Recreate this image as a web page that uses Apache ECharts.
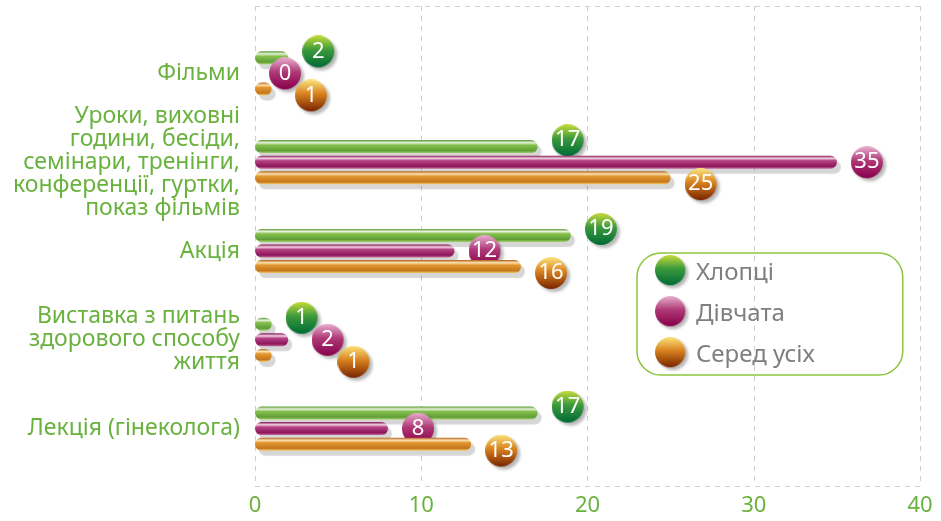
<!DOCTYPE html>
<html>
<head>
<meta charset="utf-8">
<script src="https://cdn.jsdelivr.net/npm/echarts/dist/echarts.min.js"></script>
<style>
  html, body { margin: 0; padding: 0; background: #fff; }
  #main { width: 941px; height: 521px; }
</style>
</head>
<body>
<div id="main"></div>
<script>
var categories = [
    'Фільми',
    'Уроки, виховні\nгодини, бесіди,\nсемінари, тренінги,\nконференції, гуртки,\nпоказ фільмів',
    'Акція',
    'Виставка з питань\nздорового способу\nжиття',
    'Лекція (гінеколога)'
];
var seriesNames = ['Хлопці', 'Дівчата', 'Серед усіх'];
var boys = [2, 17, 19, 1, 17];
var girls = [0, 35, 12, 2, 8];
var everyone = [1, 25, 16, 1, 13];
var xTicks = [0, 10, 20, 30, 40];

var GREEN_TEXT = '#6ab23e';
var FONT = '"Noto Sans", "DejaVu Sans", sans-serif';

// glossy ball used for value labels and legend icons
function makeBall(top, mid, bottom) {
    var c = document.createElement('canvas');
    c.width = 38; c.height = 38;
    var ctx = c.getContext('2d');
    ctx.save();
    ctx.shadowColor = 'rgba(0,0,0,0.28)';
    ctx.shadowBlur = 3;
    ctx.shadowOffsetX = 3;
    ctx.shadowOffsetY = 3;
    var g = ctx.createLinearGradient(0, 0, 0, 32);
    g.addColorStop(0, top);
    g.addColorStop(0.45, mid);
    g.addColorStop(1, bottom);
    ctx.fillStyle = g;
    ctx.beginPath();
    ctx.arc(16, 16, 16, 0, Math.PI * 2);
    ctx.fill();
    ctx.restore();
    return c;
}

var balls = [
    makeBall('#c8dc3a', '#3c9a3c', '#006a36'),
    makeBall('#e8b0cf', '#b03a78', '#87004c'),
    makeBall('#fbe47c', '#d8821f', '#782400')
];

function barGradient(edgeTop, light, mid, dark, edgeBottom) {
    return new echarts.graphic.LinearGradient(0, 0, 0, 1, [
        { offset: 0, color: edgeTop },
        { offset: 0.2, color: light },
        { offset: 0.38, color: mid },
        { offset: 0.82, color: dark },
        { offset: 1, color: edgeBottom }
    ]);
}

var barColors = [
    barGradient('#5a9832', '#e6f2da', '#86c04e', '#5f9e36', '#a6d26a'),
    barGradient('#861656', '#f2d0e2', '#b44484', '#8e145b', '#c66c9d'),
    barGradient('#b4621a', '#fbe2b2', '#e29830', '#c5761c', '#f5cf6a')
];

var values = [boys, girls, everyone];

// vertical placement of the balls around each bar
var barOffsets = [-15.6, 0, 15.6];
var ballDy = [-22, 0, 22];

function buildSeries(offsets) {
    return values.map(function (vals, s) {
        return {
            name: seriesNames[s],
            type: 'bar',
            xAxisIndex: 0,
            yAxisIndex: 0,
            barWidth: 13,
            barGap: '20%',
            z: 2 + s,
            itemStyle: {
                color: barColors[s],
                borderRadius: 6.5,
                shadowColor: 'rgba(0,0,0,0.16)',
                shadowBlur: 1,
                shadowOffsetX: 4,
                shadowOffsetY: 5
            },
            label: {
                show: true,
                position: 'right',
                distance: 14,
                formatter: '{n|{c}}',
                backgroundColor: { image: balls[s] },
                padding: [0, 6, 6, 0],
                rich: {
                    n: {
                        width: 32,
                        height: 32,
                        lineHeight: 32,
                        align: 'center',
                        color: '#fff',
                        fontSize: 22,
                        fontFamily: FONT
                    }
                }
            },
            data: vals.map(function (v, i) {
                return {
                    value: v,
                    label: { offset: offsets ? offsets[s][i] : [0, ballDy[s] - barOffsets[s] + 3] }
                };
            })
        };
    });
}

var chart = echarts.init(document.getElementById('main'));

var option = {
    animation: false,
    legend: {
        orient: 'vertical',
        left: 637,
        top: 253,
        padding: [2, 88, 2, 18],
        itemGap: 5,
        itemWidth: 36,
        itemHeight: 36,
        borderColor: '#8cc63f',
        borderWidth: 1.5,
        borderRadius: 24,
        textStyle: { color: '#7f7f7f', fontSize: 24, fontFamily: FONT },
        data: seriesNames.map(function (n, s) {
            return { name: n, icon: 'image://' + balls[s].toDataURL() };
        })
    },
    grid: [
        { left: 255, right: 21, top: 29, bottom: 48 },
        { left: 255, right: 21, top: 6, bottom: 35 }
    ],
    xAxis: [
        { gridIndex: 0, type: 'value', min: 0, max: 40, show: false },
        {
            gridIndex: 1, type: 'value', min: xTicks[0], max: xTicks[xTicks.length - 1], interval: 10,
            axisLine: { show: false },
            axisTick: { show: false },
            splitLine: { show: true, lineStyle: { color: '#cfcfcf', type: [5, 5], width: 1 } },
            axisLabel: { color: GREEN_TEXT, fontSize: 22, fontFamily: FONT, margin: 9 }
        }
    ],
    yAxis: [
        {
            gridIndex: 0, type: 'category', inverse: true, data: categories,
            axisLine: { show: false },
            axisTick: { show: false },
            axisLabel: {
                color: GREEN_TEXT, fontSize: 23, lineHeight: 23, fontFamily: FONT,
                align: 'right', margin: 15
            }
        },
        {
            gridIndex: 1, type: 'value', min: 0, max: 1, interval: 1,
            axisLine: { show: false },
            axisTick: { show: false },
            axisLabel: { show: false },
            splitLine: { show: true, lineStyle: { color: '#cfcfcf', type: [5, 5], width: 1 } }
        }
    ],
    series: buildSeries(null)
};

chart.setOption(option);

// push overlapping balls to the right so they sit in a staggered row
function spreadBalls() {
    var R2 = 34;
    var offsets = [[], [], []];
    for (var i = 0; i < categories.length; i++) {
        var placed = [];
        for (var s = 0; s < values.length; s++) {
            var p = chart.convertToPixel({ seriesIndex: s }, [values[s][i], i]);
            var baseX = p[0] + 14 + 16;
            var x = baseX;
            var y = p[1] + ballDy[s];
            for (var t = 0; t < placed.length; t++) {
                var dy = Math.abs(y - placed[t][1]);
                if (dy < R2) {
                    var need = Math.sqrt(R2 * R2 - dy * dy);
                    if (Math.abs(x - placed[t][0]) < need) x = placed[t][0] + need;
                }
            }
            placed.push([x, y]);
            offsets[s][i] = [x - baseX, ballDy[s] - barOffsets[s] + 3];
        }
    }
    chart.setOption({ series: buildSeries(offsets) });
}
spreadBalls();
</script>
</body>
</html>
